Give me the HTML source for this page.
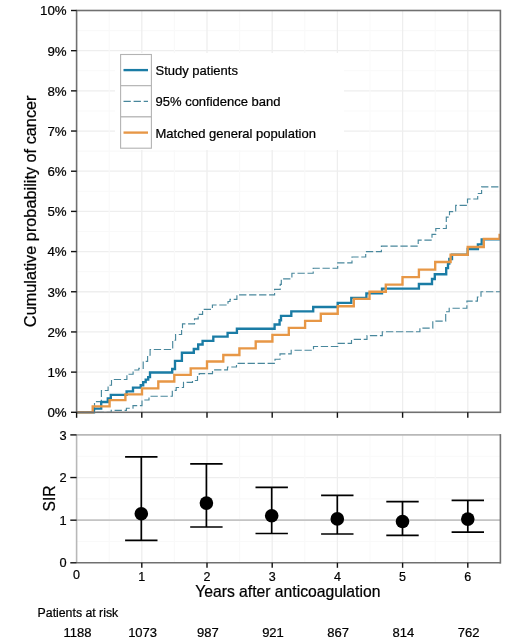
<!DOCTYPE html><html><head><meta charset="utf-8"><style>html,body{margin:0;padding:0;background:#fff;overflow:hidden;}svg{display:block;filter:blur(0.3px);}text{font-family:"Liberation Sans", sans-serif;fill:#000;stroke:#000;stroke-width:0.22px;}</style></head><body>
<svg width="520" height="637" viewBox="0 0 520 637">
<rect x="0" y="0" width="520" height="637" fill="#fff"/>
<line x1="76.6" y1="392.21" x2="500.4" y2="392.21" stroke="#f9f9f9" stroke-width="1.1"/><line x1="76.6" y1="372.12" x2="500.4" y2="372.12" stroke="#eeeeee" stroke-width="1.3"/><line x1="76.6" y1="352.03" x2="500.4" y2="352.03" stroke="#f9f9f9" stroke-width="1.1"/><line x1="76.6" y1="331.94" x2="500.4" y2="331.94" stroke="#eeeeee" stroke-width="1.3"/><line x1="76.6" y1="311.85" x2="500.4" y2="311.85" stroke="#f9f9f9" stroke-width="1.1"/><line x1="76.6" y1="291.76" x2="500.4" y2="291.76" stroke="#eeeeee" stroke-width="1.3"/><line x1="76.6" y1="271.67" x2="500.4" y2="271.67" stroke="#f9f9f9" stroke-width="1.1"/><line x1="76.6" y1="251.58" x2="500.4" y2="251.58" stroke="#eeeeee" stroke-width="1.3"/><line x1="76.6" y1="231.49" x2="500.4" y2="231.49" stroke="#f9f9f9" stroke-width="1.1"/><line x1="76.6" y1="211.40" x2="500.4" y2="211.40" stroke="#eeeeee" stroke-width="1.3"/><line x1="76.6" y1="191.31" x2="500.4" y2="191.31" stroke="#f9f9f9" stroke-width="1.1"/><line x1="76.6" y1="171.22" x2="500.4" y2="171.22" stroke="#eeeeee" stroke-width="1.3"/><line x1="76.6" y1="151.13" x2="500.4" y2="151.13" stroke="#f9f9f9" stroke-width="1.1"/><line x1="76.6" y1="131.04" x2="500.4" y2="131.04" stroke="#eeeeee" stroke-width="1.3"/><line x1="76.6" y1="110.95" x2="500.4" y2="110.95" stroke="#f9f9f9" stroke-width="1.1"/><line x1="76.6" y1="90.86" x2="500.4" y2="90.86" stroke="#eeeeee" stroke-width="1.3"/><line x1="76.6" y1="70.77" x2="500.4" y2="70.77" stroke="#f9f9f9" stroke-width="1.1"/><line x1="76.6" y1="50.68" x2="500.4" y2="50.68" stroke="#eeeeee" stroke-width="1.3"/><line x1="76.6" y1="30.59" x2="500.4" y2="30.59" stroke="#f9f9f9" stroke-width="1.1"/><line x1="109.20" y1="10.5" x2="109.20" y2="412.3" stroke="#f9f9f9" stroke-width="1.1"/><line x1="141.80" y1="10.5" x2="141.80" y2="412.3" stroke="#eeeeee" stroke-width="1.3"/><line x1="174.40" y1="10.5" x2="174.40" y2="412.3" stroke="#f9f9f9" stroke-width="1.1"/><line x1="207.00" y1="10.5" x2="207.00" y2="412.3" stroke="#eeeeee" stroke-width="1.3"/><line x1="239.60" y1="10.5" x2="239.60" y2="412.3" stroke="#f9f9f9" stroke-width="1.1"/><line x1="272.20" y1="10.5" x2="272.20" y2="412.3" stroke="#eeeeee" stroke-width="1.3"/><line x1="304.80" y1="10.5" x2="304.80" y2="412.3" stroke="#f9f9f9" stroke-width="1.1"/><line x1="337.40" y1="10.5" x2="337.40" y2="412.3" stroke="#eeeeee" stroke-width="1.3"/><line x1="370.00" y1="10.5" x2="370.00" y2="412.3" stroke="#f9f9f9" stroke-width="1.1"/><line x1="402.60" y1="10.5" x2="402.60" y2="412.3" stroke="#eeeeee" stroke-width="1.3"/><line x1="435.20" y1="10.5" x2="435.20" y2="412.3" stroke="#f9f9f9" stroke-width="1.1"/><line x1="467.80" y1="10.5" x2="467.80" y2="412.3" stroke="#eeeeee" stroke-width="1.3"/>
<rect x="115" y="53" width="229" height="97" fill="#fff"/>
<g fill="none" stroke-linejoin="miter" stroke-linecap="butt">
<path d="M76.6,412.3 H94.5 V401.6 H101.4 V390.5 H108.1 V385.2 H111.5 V379.5 H126.9 V374.2 H133.1 V370.0 H138.8 V368.3 H143.2 V361.4 H147.6 V355.1 H150.1 V349.5 H172.7 V340.2 H175.6 V334.5 H181.6 V328.2 H182.5 V323.8 H194.5 V318.8 H198.2 V314.4 H202.6 V309.4 H212.4 V305.0 H228.0 V301.5 H230.0 V299.4 H236.9 V294.8 H274.6 V289.4 H280.2 V284.4 H281.3 V278.8 H291.9 V273.2 H313.2 V268.2 H337.7 V262.9 H352.0 V257.0 H365.7 V251.6 H381.4 V246.1 H418.2 V240.1 H432.0 V234.4 H435.8 V228.5 H446.3 V217.1 H449.5 V211.6 H455.7 V205.3 H467.5 V199.0 H477.7 V193.5 H481.6 V186.8 H500.4" stroke="#48879c" stroke-width="1.15" stroke-dasharray="7.3,2.7"/>
<path d="M76.6,412.3 H111.2 V410.3 H126.4 V408.2 H133.0 V405.6 H142.0 V400.0 H149.0 V396.2 H172.3 V390.4 H176.2 V387.5 H183.5 V382.3 H192.5 V380.5 H197.5 V375.5 H199.2 V373.6 H212.5 V369.8 H227.5 V367.0 H236.5 V363.3 H275.0 V359.2 H280.0 V353.8 H291.2 V350.2 H313.5 V346.5 H338.0 V343.3 H351.5 V339.4 H367.0 V335.6 H382.3 V331.7 H419.9 V328.1 H432.8 V321.1 H445.7 V311.7 H449.2 V308.2 H466.9 V301.1 H477.4 V297.0 H481.0 V291.7 H500.4" stroke="#48879c" stroke-width="1.15" stroke-dasharray="7.3,2.7"/>
<path d="M76.6,412.3 H94.0 V408.6 H101.2 V402.0 H107.8 V398.5 H110.8 V394.8 H126.6 V391.4 H133.0 V387.6 H140.7 V385.2 H143.2 V382.1 H145.7 V379.6 H148.2 V377.1 H150.0 V372.5 H172.2 V369.0 H175.0 V360.9 H181.9 V352.7 H193.8 V349.0 H198.2 V344.5 H202.6 V340.8 H213.3 V336.6 H227.6 V332.8 H236.9 V328.7 H274.6 V324.5 H279.6 V320.2 H281.0 V315.8 H291.3 V311.4 H313.2 V307.0 H337.7 V302.8 H351.3 V297.8 H366.4 V293.4 H382.0 V288.6 H418.9 V284.0 H432.0 V279.0 H434.8 V274.2 H446.2 V268.1 H448.0 V263.6 H449.3 V259.0 H452.0 V254.7 H467.7 V249.0 H477.9 V244.4 H481.7 V239.3 H500.4" stroke="#1a7ca5" stroke-width="2.35"/>
<path d="M76.6,412.3 H92.7 V406.4 H109.6 V400.1 H125.4 V394.4 H142.0 V388.4 H158.3 V381.5 H174.3 V374.8 H190.7 V368.4 H207.0 V361.5 H223.3 V355.0 H239.4 V348.4 H255.7 V341.5 H272.4 V334.8 H288.8 V327.8 H305.1 V320.9 H320.8 V313.7 H337.7 V306.2 H353.8 V298.8 H369.5 V291.7 H385.8 V284.6 H402.5 V277.1 H418.9 V269.6 H435.2 V262.0 H450.6 V254.7 H467.7 V247.0 H483.8 V238.9 H499.6 V235.0 H500.4" stroke="#e79746" stroke-width="2.35"/>
</g>
<rect x="76.6" y="10.5" width="423.8" height="401.8" fill="none" stroke="#707070" stroke-width="1.6"/>
<rect x="120.6" y="54.5" width="30.8" height="31.2" fill="#fff" stroke="#b3b3b3" stroke-width="1.1"/>
<rect x="120.6" y="85.7" width="30.8" height="31.2" fill="#fff" stroke="#b3b3b3" stroke-width="1.1"/>
<rect x="120.6" y="116.9" width="30.8" height="31.3" fill="#fff" stroke="#b3b3b3" stroke-width="1.1"/>
<line x1="123.5" y1="70.1" x2="148" y2="70.1" stroke="#1a7ca5" stroke-width="2.35"/>
<line x1="123.5" y1="101.4" x2="148" y2="101.4" stroke="#48879c" stroke-width="1.2" stroke-dasharray="7.3,2.8"/>
<line x1="123.5" y1="132.6" x2="148" y2="132.6" stroke="#e79746" stroke-width="2.35"/>
<text x="155.5" y="74.9" font-size="13">Study patients</text>
<text x="155.5" y="106.3" font-size="13">95% confidence band</text>
<text x="155.5" y="137.6" font-size="13">Matched general population</text>
<line x1="71.0" y1="412.30" x2="76.6" y2="412.30" stroke="#111" stroke-width="1.4"/><text x="66.7" y="417.20" font-size="13.3" text-anchor="end">0%</text><line x1="71.0" y1="372.12" x2="76.6" y2="372.12" stroke="#111" stroke-width="1.4"/><text x="66.7" y="377.02" font-size="13.3" text-anchor="end">1%</text><line x1="71.0" y1="331.94" x2="76.6" y2="331.94" stroke="#111" stroke-width="1.4"/><text x="66.7" y="336.84" font-size="13.3" text-anchor="end">2%</text><line x1="71.0" y1="291.76" x2="76.6" y2="291.76" stroke="#111" stroke-width="1.4"/><text x="66.7" y="296.66" font-size="13.3" text-anchor="end">3%</text><line x1="71.0" y1="251.58" x2="76.6" y2="251.58" stroke="#111" stroke-width="1.4"/><text x="66.7" y="256.48" font-size="13.3" text-anchor="end">4%</text><line x1="71.0" y1="211.40" x2="76.6" y2="211.40" stroke="#111" stroke-width="1.4"/><text x="66.7" y="216.30" font-size="13.3" text-anchor="end">5%</text><line x1="71.0" y1="171.22" x2="76.6" y2="171.22" stroke="#111" stroke-width="1.4"/><text x="66.7" y="176.12" font-size="13.3" text-anchor="end">6%</text><line x1="71.0" y1="131.04" x2="76.6" y2="131.04" stroke="#111" stroke-width="1.4"/><text x="66.7" y="135.94" font-size="13.3" text-anchor="end">7%</text><line x1="71.0" y1="90.86" x2="76.6" y2="90.86" stroke="#111" stroke-width="1.4"/><text x="66.7" y="95.76" font-size="13.3" text-anchor="end">8%</text><line x1="71.0" y1="50.68" x2="76.6" y2="50.68" stroke="#111" stroke-width="1.4"/><text x="66.7" y="55.58" font-size="13.3" text-anchor="end">9%</text><line x1="71.0" y1="10.50" x2="76.6" y2="10.50" stroke="#111" stroke-width="1.4"/><text x="66.7" y="15.40" font-size="13.3" text-anchor="end">10%</text><line x1="76.60" y1="412.3" x2="76.60" y2="417.8" stroke="#111" stroke-width="1.4"/><line x1="141.80" y1="412.3" x2="141.80" y2="417.8" stroke="#111" stroke-width="1.4"/><line x1="207.00" y1="412.3" x2="207.00" y2="417.8" stroke="#111" stroke-width="1.4"/><line x1="272.20" y1="412.3" x2="272.20" y2="417.8" stroke="#111" stroke-width="1.4"/><line x1="337.40" y1="412.3" x2="337.40" y2="417.8" stroke="#111" stroke-width="1.4"/><line x1="402.60" y1="412.3" x2="402.60" y2="417.8" stroke="#111" stroke-width="1.4"/><line x1="467.80" y1="412.3" x2="467.80" y2="417.8" stroke="#111" stroke-width="1.4"/>
<line x1="76.6" y1="541.48" x2="500.4" y2="541.48" stroke="#f9f9f9" stroke-width="1.1"/><line x1="76.6" y1="520.17" x2="500.4" y2="520.17" stroke="#eeeeee" stroke-width="1.3"/><line x1="76.6" y1="498.85" x2="500.4" y2="498.85" stroke="#f9f9f9" stroke-width="1.1"/><line x1="76.6" y1="477.54" x2="500.4" y2="477.54" stroke="#eeeeee" stroke-width="1.3"/><line x1="76.6" y1="456.22" x2="500.4" y2="456.22" stroke="#f9f9f9" stroke-width="1.1"/><line x1="109.20" y1="434.9" x2="109.20" y2="562.8" stroke="#f9f9f9" stroke-width="1.1"/><line x1="141.80" y1="434.9" x2="141.80" y2="562.8" stroke="#eeeeee" stroke-width="1.3"/><line x1="174.40" y1="434.9" x2="174.40" y2="562.8" stroke="#f9f9f9" stroke-width="1.1"/><line x1="207.00" y1="434.9" x2="207.00" y2="562.8" stroke="#eeeeee" stroke-width="1.3"/><line x1="239.60" y1="434.9" x2="239.60" y2="562.8" stroke="#f9f9f9" stroke-width="1.1"/><line x1="272.20" y1="434.9" x2="272.20" y2="562.8" stroke="#eeeeee" stroke-width="1.3"/><line x1="304.80" y1="434.9" x2="304.80" y2="562.8" stroke="#f9f9f9" stroke-width="1.1"/><line x1="337.40" y1="434.9" x2="337.40" y2="562.8" stroke="#eeeeee" stroke-width="1.3"/><line x1="370.00" y1="434.9" x2="370.00" y2="562.8" stroke="#f9f9f9" stroke-width="1.1"/><line x1="402.60" y1="434.9" x2="402.60" y2="562.8" stroke="#eeeeee" stroke-width="1.3"/><line x1="435.20" y1="434.9" x2="435.20" y2="562.8" stroke="#f9f9f9" stroke-width="1.1"/><line x1="467.80" y1="434.9" x2="467.80" y2="562.8" stroke="#eeeeee" stroke-width="1.3"/>
<line x1="76.6" y1="520.17" x2="500.4" y2="520.17" stroke="#c4c4c4" stroke-width="1.8"/>
<line x1="76.6" y1="434.91" x2="500.4" y2="434.91" stroke="#b8b8b8" stroke-width="1.6"/>
<line x1="76.6" y1="434.91" x2="76.6" y2="562.80" stroke="#b8b8b8" stroke-width="1.6"/>
<line x1="500.4" y1="434.11" x2="500.4" y2="563.60" stroke="#707070" stroke-width="1.6"/>
<line x1="76.6" y1="562.80" x2="500.4" y2="562.80" stroke="#707070" stroke-width="1.6"/>
<line x1="141.3" y1="456.8" x2="141.3" y2="540.4" stroke="#000" stroke-width="1.7"/><line x1="125.1" y1="456.8" x2="157.5" y2="456.8" stroke="#000" stroke-width="1.7"/><line x1="125.1" y1="540.4" x2="157.5" y2="540.4" stroke="#000" stroke-width="1.7"/><circle cx="141.3" cy="513.7" r="6.8" fill="#000"/><line x1="206.4" y1="463.8" x2="206.4" y2="527.0" stroke="#000" stroke-width="1.7"/><line x1="190.2" y1="463.8" x2="222.6" y2="463.8" stroke="#000" stroke-width="1.7"/><line x1="190.2" y1="527.0" x2="222.6" y2="527.0" stroke="#000" stroke-width="1.7"/><circle cx="206.4" cy="503.1" r="6.8" fill="#000"/><line x1="271.7" y1="487.3" x2="271.7" y2="533.5" stroke="#000" stroke-width="1.7"/><line x1="255.5" y1="487.3" x2="287.9" y2="487.3" stroke="#000" stroke-width="1.7"/><line x1="255.5" y1="533.5" x2="287.9" y2="533.5" stroke="#000" stroke-width="1.7"/><circle cx="271.7" cy="515.7" r="6.8" fill="#000"/><line x1="337.3" y1="495.3" x2="337.3" y2="534.0" stroke="#000" stroke-width="1.7"/><line x1="321.1" y1="495.3" x2="353.5" y2="495.3" stroke="#000" stroke-width="1.7"/><line x1="321.1" y1="534.0" x2="353.5" y2="534.0" stroke="#000" stroke-width="1.7"/><circle cx="337.3" cy="518.9" r="6.8" fill="#000"/><line x1="402.5" y1="501.6" x2="402.5" y2="535.3" stroke="#000" stroke-width="1.7"/><line x1="386.3" y1="501.6" x2="418.7" y2="501.6" stroke="#000" stroke-width="1.7"/><line x1="386.3" y1="535.3" x2="418.7" y2="535.3" stroke="#000" stroke-width="1.7"/><circle cx="402.5" cy="521.5" r="6.8" fill="#000"/><line x1="467.8" y1="500.3" x2="467.8" y2="532.1" stroke="#000" stroke-width="1.7"/><line x1="451.6" y1="500.3" x2="484.0" y2="500.3" stroke="#000" stroke-width="1.7"/><line x1="451.6" y1="532.1" x2="484.0" y2="532.1" stroke="#000" stroke-width="1.7"/><circle cx="467.8" cy="519.1" r="6.8" fill="#000"/>
<line x1="70.3" y1="562.80" x2="76.6" y2="562.80" stroke="#111" stroke-width="1.4"/><text x="66.6" y="567.40" font-size="12.8" text-anchor="end">0</text><line x1="70.3" y1="520.17" x2="76.6" y2="520.17" stroke="#111" stroke-width="1.4"/><text x="66.6" y="524.77" font-size="12.8" text-anchor="end">1</text><line x1="70.3" y1="477.54" x2="76.6" y2="477.54" stroke="#111" stroke-width="1.4"/><text x="66.6" y="482.14" font-size="12.8" text-anchor="end">2</text><line x1="70.3" y1="434.91" x2="76.6" y2="434.91" stroke="#111" stroke-width="1.4"/><text x="66.6" y="439.51" font-size="12.8" text-anchor="end">3</text><line x1="141.80" y1="562.8" x2="141.80" y2="567.8" stroke="#111" stroke-width="1.4"/><line x1="207.00" y1="562.8" x2="207.00" y2="567.8" stroke="#111" stroke-width="1.4"/><line x1="272.20" y1="562.8" x2="272.20" y2="567.8" stroke="#111" stroke-width="1.4"/><line x1="337.40" y1="562.8" x2="337.40" y2="567.8" stroke="#111" stroke-width="1.4"/><line x1="402.60" y1="562.8" x2="402.60" y2="567.8" stroke="#111" stroke-width="1.4"/><line x1="467.80" y1="562.8" x2="467.80" y2="567.8" stroke="#111" stroke-width="1.4"/><text x="76.60" y="578.6" font-size="12.5" text-anchor="middle">0</text><text x="141.80" y="580.6" font-size="12.5" text-anchor="middle">1</text><text x="207.00" y="580.6" font-size="12.5" text-anchor="middle">2</text><text x="272.20" y="580.6" font-size="12.5" text-anchor="middle">3</text><text x="337.40" y="580.6" font-size="12.5" text-anchor="middle">4</text><text x="402.60" y="580.6" font-size="12.5" text-anchor="middle">5</text><text x="467.80" y="580.6" font-size="12.5" text-anchor="middle">6</text>
<text x="0" y="0" font-size="16.3" text-anchor="middle" transform="translate(36.2,211.3) rotate(-90)">Cumulative probability of cancer</text>
<text x="0" y="0" font-size="15.7" text-anchor="middle" transform="translate(55.1,498.5) rotate(-90)">SIR</text>
<text x="195.2" y="596.7" font-size="15.7">Years after anticoagulation</text>
<text x="37.6" y="616.6" font-size="12.3">Patients at risk</text>
<text x="77.40" y="637.3" font-size="13" text-anchor="middle">1188</text>
<text x="142.60" y="637.3" font-size="13" text-anchor="middle">1073</text>
<text x="207.80" y="637.3" font-size="13" text-anchor="middle">987</text>
<text x="273.00" y="637.3" font-size="13" text-anchor="middle">921</text>
<text x="338.20" y="637.3" font-size="13" text-anchor="middle">867</text>
<text x="403.40" y="637.3" font-size="13" text-anchor="middle">814</text>
<text x="468.60" y="637.3" font-size="13" text-anchor="middle">762</text>
</svg></body></html>
